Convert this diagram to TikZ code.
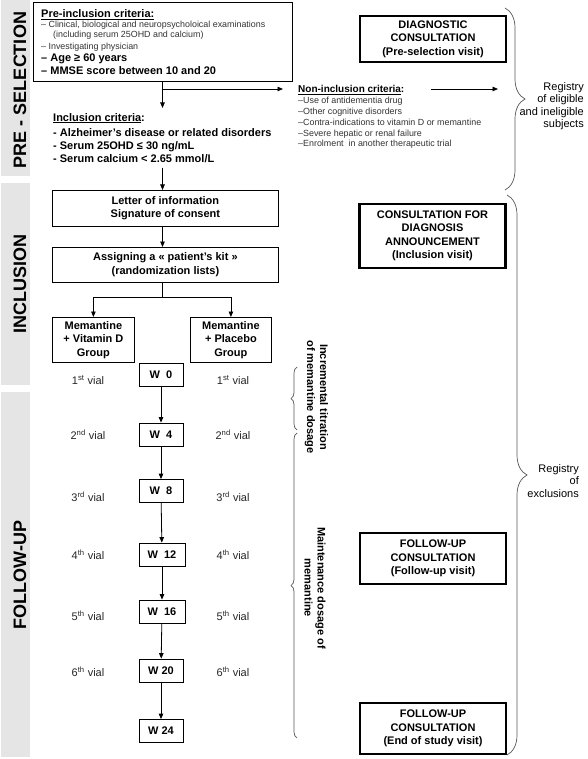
\documentclass[tikz,border=0pt]{standalone}
\usepackage{fontspec}
\setmainfont{Liberation Sans}
\usetikzlibrary{arrows.meta,decorations.pathreplacing}
\newcommand\fz[2]{\fontsize{#1}{#2}\selectfont}
\begin{document}
\begin{tikzpicture}[x=1pt,y=-1pt,
  box/.style={draw, line width=0.8pt, inner sep=0pt, align=center, font=\bfseries\fz{11}{13.5}},
  cbox/.style={draw, line width=2.8pt, inner sep=0pt, align=center, font=\bfseries\fz{11}{13.5}, minimum width=146pt},
  wbox/.style={draw, line width=0.8pt, inner sep=0pt, minimum width=44pt, minimum height=23pt, font=\bfseries\fz{11}{13}},
  vial/.style={inner sep=0pt, font=\fz{11}{13}, text=black!85},
  small/.style={inner sep=0pt, font=\fz{8.9}{10.8}, text=black!80, anchor=base west},
  crit/.style={inner sep=0pt, font=\bfseries\fz{11}{13}, anchor=base west},
  arr/.style={line width=0.8pt, -{Triangle[length=5.5pt,width=4.5pt]}},
  brc/.style={decorate, decoration={brace, amplitude=#1}, line width=0.7pt, draw=black!65},
  phase/.style={rotate=90, font=\bfseries\fz{18}{20}, inner sep=0pt},
  note/.style={inner sep=0pt, font=\fz{11}{12.5}, align=right, anchor=east},
  rot/.style={rotate=-90, inner sep=0pt, align=center, font=\bfseries\fz{11}{13}}]
\useasboundingbox[fill=white] (0,0) rectangle (587,759);

% phase bars
\fill[gray!20] (1,0) rectangle (30,176);
\fill[gray!20] (1,183) rectangle (30,385);
\fill[gray!20] (1,392) rectangle (30,757);
\node[phase] (ph1) at (20,90) {PRE - SELECTION};
\node[phase] (ph2) at (20,284) {INCLUSION};
\node[phase] (ph3) at (20,575) {FOLLOW-UP};

% pre-inclusion box
\node[box, anchor=north west, minimum width=259pt, minimum height=79pt] (pre) at (33,2) {};
\node[anchor=base west, inner sep=0pt, font=\bfseries\fz{11}{13}] (preh) at (41,18) {\underline{Pre-inclusion criteria:}};
\node[small] (pre1) at (41,28) {– Clinical, biological and neuropsycholoical examinations};
\node[small] (pre2) at (53,37.5) {(including serum 25OHD and calcium)};
\node[small] (pre3) at (41,49.5) {– Investigating physician};
\node[crit] (pre4) at (41,62) {– Age ≥ 60 years};
\node[crit] (pre5) at (41,75) {– MMSE score between 10 and 20};

% inclusion criteria
\coordinate (mx) at (162.5,0);
\node[anchor=north west, inner xsep=0pt, inner ysep=5pt, align=left, font=\bfseries\fz{11}{13}] (incl) at (53,108)
  {\underline{Inclusion criteria}:\\[2pt]- Alzheimer’s disease or related disorders\\- Serum 25OHD ≤ 30 ng/mL\\- Serum calcium < 2.65 mmol/L};

% non-inclusion criteria
\node[anchor=base west, inner sep=0pt, font=\bfseries\fz{10}{12}] (nonh) at (298,92.5) {\underline{Non-inclusion criteria}:};
\node[anchor=north west, inner sep=0pt, align=left, font=\fz{8.9}{10.8}, text=black!80] (nonl) at (298,97)
  {–Use of antidementia drug\\–Other cognitive disorders\\–Contra-indications to vitamin D or memantine\\–Severe hepatic or renal failure\\–Enrolment\ \ in another therapeutic trial};

\draw[arr] (pre.south -| mx) -- (incl.north -| mx);
\coordinate (br) at (162.5,89);
\draw[arr, shorten >=15pt] (br) -- (br -| nonh.west);
\coordinate (regA) at (498,89);
\draw[arr, shorten <=26pt] (br -| nonh.east) -- (regA);

% inclusion boxes
\node[box, anchor=north west, minimum width=226pt, minimum height=36pt] (letter) at (52,190) {Letter of information\\Signature of consent};
\node[box, anchor=north west, minimum width=226pt, minimum height=35pt] (assign) at (52,247) {Assigning a « patient’s kit »\\(randomization lists)};
\node[box, anchor=north west, minimum width=82pt, minimum height=45pt] (g1) at (52,317) {Memantine\\+ Vitamin D\\Group};
\node[box, anchor=north west, minimum width=81pt, minimum height=45pt] (g2) at (190,317) {Memantine\\+ Placebo\\Group};

\draw[arr] (incl.south -| mx) -- (letter.north -| mx);
\draw[arr] (letter.south -| mx) -- (assign.north -| mx);
\draw[line width=0.8pt] (assign.south -| mx) -- ++(0,15) coordinate (split);
\draw[arr] (split) -| (g1.north);
\draw[arr] (split) -| (g2.north);

% week boxes
\node[wbox] (w0) at (161,375) {W\ \ 0};
\node[wbox] (w4) at (161,434.5) {W\ \ 4};
\node[wbox] (w8) at (161,491) {W\ \ 8};
\node[wbox, minimum width=46pt] (w12) at (162,554.5) {W\ \ 12};
\node[wbox, minimum width=46pt] (w16) at (162,611.5) {W\ \ 16};
\node[wbox] (w20) at (161,670.5) {W 20};
\node[wbox] (w24) at (161,731) {W 24};
\draw[arr] (w0) -- (w4);
\draw[arr] (w4) -- (w8);
\draw[arr] (w8) -- (w12);
\draw[arr] (w12) -- (w16);
\draw[arr] (w16) -- (w20);
\draw[arr] (w20) -- (w24);

% vials
\node[vial] (v1l) at (88,380) {1\textsuperscript{st} vial};
\node[vial] (v1r) at (233,380) {1\textsuperscript{st} vial};
\node[vial] (v2l) at (88,435) {2\textsuperscript{nd} vial};
\node[vial] (v2r) at (233,435) {2\textsuperscript{nd} vial};
\node[vial] (v3l) at (88,497) {3\textsuperscript{rd} vial};
\node[vial] (v3r) at (233,497) {3\textsuperscript{rd} vial};
\node[vial] (v4l) at (88,555) {4\textsuperscript{th} vial};
\node[vial] (v4r) at (233,555) {4\textsuperscript{th} vial};
\node[vial] (v5l) at (88,616) {5\textsuperscript{th} vial};
\node[vial] (v5r) at (233,616) {5\textsuperscript{th} vial};
\node[vial] (v6l) at (88,672) {6\textsuperscript{th} vial};
\node[vial] (v6r) at (233,672) {6\textsuperscript{th} vial};

% dosage braces and labels
\draw[brc=6pt] (297,430) -- (297,367);
\draw[brc=6pt] (297,738) -- (297,433);
\node[rot] (titr) at (316.5,397) {Incremental titration\\of memantine dosage};
\node[rot] (maint) at (315,588) {Maintenance dosage of\\memantine};

% consultation boxes
\node[cbox, minimum height=46pt] (c1) at (433,39) {DIAGNOSTIC\\CONSULTATION\\(Pre-selection visit)};
\node[cbox, minimum height=64pt] (c2) at (432.5,236) {CONSULTATION FOR\\DIAGNOSIS\\ANNOUNCEMENT\\(Inclusion visit)};
\node[cbox, minimum height=51pt] (c3) at (433,558.5) {FOLLOW-UP\\CONSULTATION\\(Follow-up visit)};
\node[cbox, minimum height=51pt] (c4) at (433,728.5) {FOLLOW-UP\\CONSULTATION\\(End of study visit)};

% registry braces
\draw[brc=20pt] (505,8) -- (505,190);
\draw[brc=20pt] (507,195) -- (507,755);
\node[note] (reg1) at (584,106) {Registry\\of eligible\\and ineligible\\subjects};
\node[note] (reg2) at (579,481) {Registry\\of\\exclusions};
\end{tikzpicture}
\end{document}
